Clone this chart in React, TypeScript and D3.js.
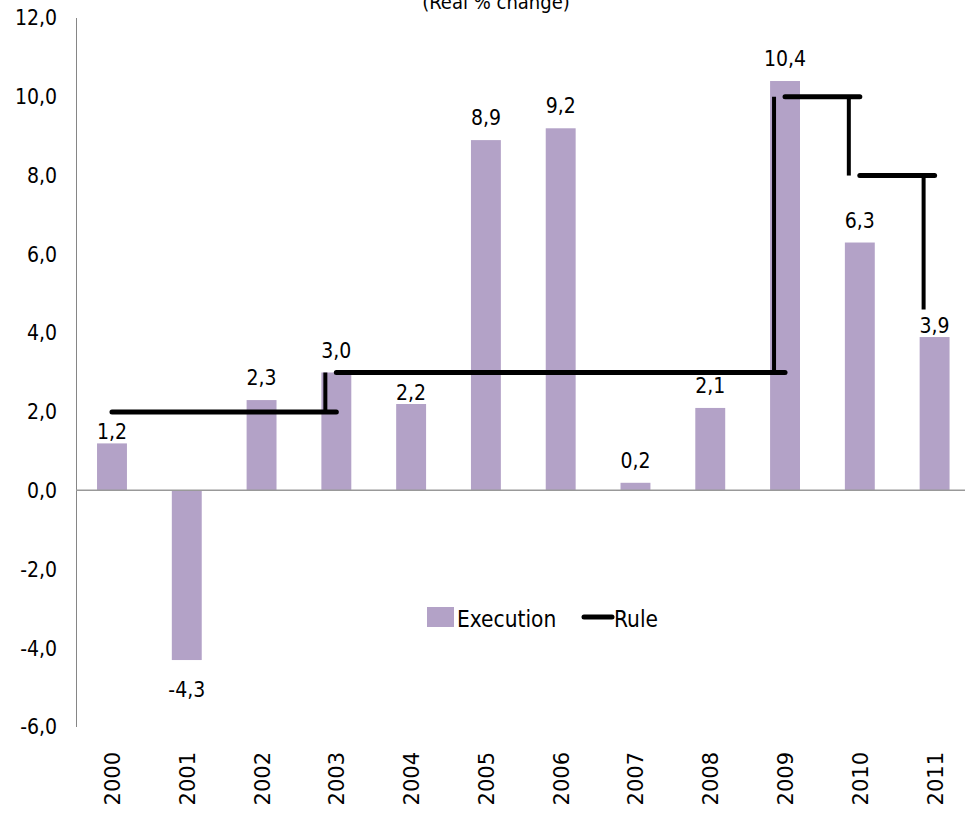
import React from "react";
import * as d3 from "d3";

const years = ["2000","2001","2002","2003","2004","2005","2006","2007","2008","2009","2010","2011"];
const execution = [1.2, -4.3, 2.3, 3.0, 2.2, 8.9, 9.2, 0.2, 2.1, 10.4, 6.3, 3.9];
const yTicks = [-6, -4, -2, 0, 2, 4, 6, 8, 10, 12];
const ruleSteps = [
  { from: "2000", to: "2003", value: 2.0 },
  { from: "2003", to: "2009", value: 3.0 },
  { from: "2009", to: "2010", value: 10.0 },
  { from: "2010", to: "2011", value: 8.0 },
];
const ruleDrops = [
  { year: "2003", from: 2.0, to: 3.0 },
  { year: "2009", from: 3.0, to: 10.0 },
  { year: "2010", from: 10.0, to: 8.0 },
  { year: "2011", from: 8.0, to: 4.6 },
];
const title = "(Real % change)";

const W = 965, H = 815;
const BAR = "#b3a2c7";
const FONT = "'Liberation Sans Narrow', 'DejaVu Sans Condensed', 'Liberation Sans', sans-serif";
const fmt = (v: number) => v.toFixed(1).replace(".", ",");

export default function App() {
  const x = d3.scaleBand<string>().domain(years).range([74.6, 972]).padding(0);
  const y = d3.scaleLinear().domain([-6, 12]).range([727, 18]);
  const cx = (yr: string) => (x(yr) as number) + x.bandwidth() / 2;
  const bw = x.bandwidth() * 0.4;
  const nudged = new Set(["2000", "2004", "2011"]);

  return (
    <svg width={W} height={H} style={{ position: "absolute", left: 0, top: 0, background: "#fff" }}
      fontFamily={FONT}>
      <text x={496} y={9} textAnchor="middle" fontSize={20} fill="#000">{title}</text>
      {/* y axis */}
      <line x1={76.5} x2={76.5} y1={y(12)} y2={y(-6)} stroke="#868686" strokeWidth={1} />
      {yTicks.map((t) => (
        <text key={t} x={57} y={y(t)} dy="0.35em" textAnchor="end" fontSize={21} fill="#000">{fmt(t)}</text>
      ))}
      {/* bars */}
      {years.map((yr, i) => {
        const v = execution[i];
        return (
          <rect key={yr} x={cx(yr) - bw / 2} y={Math.min(y(v), y(0))} width={bw}
            height={Math.abs(y(v) - y(0))} fill={BAR} />
        );
      })}
      {/* x axis */}
      <line x1={76} x2={W} y1={y(0) - 0.5} y2={y(0) - 0.5} stroke="#999" strokeWidth={1.5} />
      {/* rule */}
      {ruleSteps.map((s, i) => (
        <line key={"h" + i} x1={cx(s.from)} x2={cx(s.to)} y1={y(s.value)} y2={y(s.value)}
          stroke="#000" strokeWidth={5} strokeLinecap="round" />
      ))}
      {ruleDrops.map((d, i) => (
        <line key={"v" + i} x1={cx(d.year) - 11} x2={cx(d.year) - 11} y1={y(d.from)} y2={y(d.to)}
          stroke="#000" strokeWidth={4} />
      ))}
      {/* value labels */}
      {years.map((yr, i) => {
        const v = execution[i];
        const yy = v >= 0 ? y(v) - (nudged.has(yr) ? 4 : 15) : y(v) + 37;
        return (
          <text key={"l" + yr} x={cx(yr)} y={yy} textAnchor="middle" fontSize={21} fill="#000">{fmt(v)}</text>
        );
      })}
      {/* year labels */}
      {years.map((yr) => (
        <text key={"t" + yr} transform={`translate(${cx(yr) + 1},752) rotate(-90)`} textAnchor="end"
          dominantBaseline="central" fontSize={21} fontFamily="'DejaVu Sans', sans-serif" fill="#000">{yr}</text>
      ))}
      {/* legend */}
      <rect x={427} y={607} width={27} height={20} fill={BAR} />
      <text x={457} y={627} fontSize={22.5} fill="#000">Execution</text>
      <line x1={584} x2={612} y1={617} y2={617} stroke="#000" strokeWidth={5} strokeLinecap="round" />
      <text x={614} y={627} fontSize={22.5} fill="#000">Rule</text>
    </svg>
  );
}
